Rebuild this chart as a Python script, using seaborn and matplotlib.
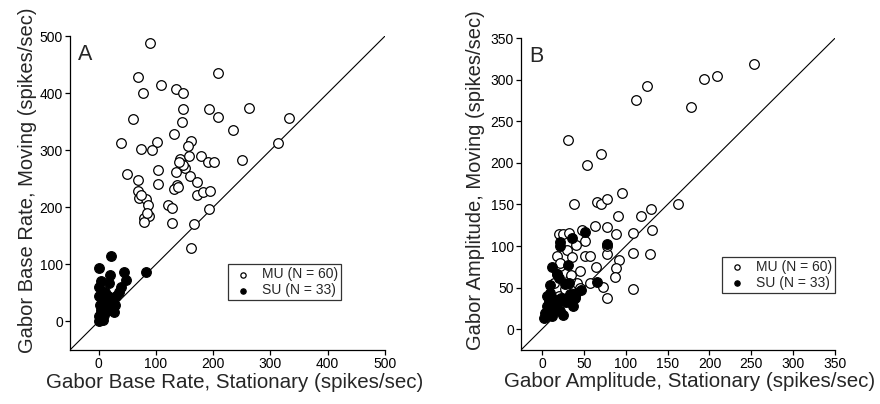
import matplotlib
matplotlib.use("Agg")
import matplotlib.pyplot as plt
import seaborn as sns
import pandas as pd

# Panel A: Gabor base rate (spikes/sec), stationary vs moving
mu_base_stat = [89, 68, 109, 77, 135, 148, 208, 148, 192, 263, 60, 146, 209, 333, 234,
                131, 39, 102, 162, 74, 93, 156, 314, 142, 158, 179, 191, 201, 251, 150,
                49, 104, 135, 160, 171, 68, 104, 137, 132, 69, 171, 182, 194, 70, 83,
                87, 122, 129, 192, 79, 88, 79, 128, 166, 162, 147, 139, 74, 141, 85]
mu_base_move = [487, 429, 415, 400, 407, 400, 436, 373, 372, 374, 355, 349, 358, 356, 336,
                328, 313, 314, 317, 302, 300, 308, 312, 284, 290, 290, 280, 280, 282, 269,
                258, 265, 261, 254, 245, 248, 240, 239, 232, 228, 221, 227, 229, 216, 214,
                204, 204, 199, 197, 181, 185, 174, 172, 170, 128, 274, 236, 222, 280, 190]
su_base_stat = [22, 0, 20, 44, 83, 4, 19, 48, 1, 39, 36, 1, 16, 30, 10, 24, 4, 19, 27, 0,
                10, 0, 7, 3, 5, 8, 13, 14, 22, 28, 12, 6, 2]
su_base_move = [115, 93, 82, 86, 86, 70, 68, 73, 60, 61, 52, 44, 44, 44, 32, 32, 20, 20, 17, 9,
                12, 0, 3, 5, 14, 25, 28, 38, 38, 28, 52, 40, 28]

# Panel B: Gabor amplitude (spikes/sec), stationary vs moving
mu_amp_stat = [253, 209, 194, 126, 112, 178, 31, 71, 54, 96, 38, 66, 70, 78, 163,
               130, 118, 91, 63, 78, 89, 109, 131, 48, 21, 25, 32, 51, 41, 30,
               36, 18, 52, 57, 78, 78, 109, 129, 92, 89, 65, 45, 87, 22, 42,
               57, 73, 109, 78, 33, 18, 26, 34, 20, 15, 40, 28, 35, 22, 46]
mu_amp_move = [319, 305, 301, 292, 276, 267, 227, 211, 197, 164, 151, 153, 150, 156, 150,
               144, 136, 136, 124, 123, 115, 116, 119, 119, 114, 114, 116, 106, 101, 95,
               87, 88, 88, 88, 91, 100, 92, 90, 83, 73, 75, 70, 63, 76, 56,
               55, 51, 48, 38, 60, 66, 40, 44, 40, 55, 40, 48, 65, 80, 50]
su_amp_stat = [51, 36, 22, 22, 78, 31, 12, 18, 20, 66, 32, 28, 10, 47, 41, 34, 10, 8, 15, 23,
               39, 37, 6, 14, 4, 10, 22, 25, 3, 12, 18, 29, 6]
su_amp_move = [117, 110, 105, 100, 103, 77, 75, 66, 62, 57, 56, 54, 53, 47, 44, 42, 44, 34, 36, 38,
               37, 28, 28, 24, 20, 21, 22, 17, 13, 16, 29, 33, 40]

mu_label = "MU (N = 60)"
su_label = "SU (N = 33)"

panels = [
    dict(letter="A", lim=(-50, 500), ticks=[0, 100, 200, 300, 400, 500],
         mu=(mu_base_stat, mu_base_move), su=(su_base_stat, su_base_move),
         xlabel="Gabor Base Rate, Stationary (spikes/sec)",
         ylabel="Gabor Base Rate, Moving (spikes/sec)",
         rect=[0.0795, 0.1337, 0.358, 0.777],
         xlabel_pos=(0.524, -0.072), ylabel_pos=(-0.105, 0.541),
         legend=dict(loc="lower left", bbox_to_anchor=(0.502, 0.159))),
    dict(letter="B", lim=(-25, 350), ticks=[0, 50, 100, 150, 200, 250, 300, 350],
         mu=(mu_amp_stat, mu_amp_move), su=(su_amp_stat, su_amp_move),
         xlabel="Gabor Amplitude, Stationary (spikes/sec)",
         ylabel="Gabor Amplitude, Moving (spikes/sec)",
         rect=[0.592, 0.1337, 0.357, 0.772],
         xlabel_pos=(0.538, -0.072), ylabel_pos=(-0.115, 0.545),
         legend=dict(loc="lower right", bbox_to_anchor=(1.0, 0.183))),
]

sns.set_style("ticks")
plt.rcParams["font.family"] = ["Liberation Sans", "DejaVu Sans"]

fig = plt.figure(figsize=(8.8, 4.04), dpi=100)

for p in panels:
    ax = fig.add_axes(p["rect"])
    lo, hi = p["lim"]
    # unity line
    ax.plot([lo, hi], [lo, hi], color="black", lw=0.8, zorder=1)

    mu_df = pd.DataFrame({"stat": p["mu"][0], "move": p["mu"][1]})
    su_df = pd.DataFrame({"stat": p["su"][0], "move": p["su"][1]})
    sns.scatterplot(data=mu_df, x="stat", y="move", ax=ax, marker="o", s=48,
                    facecolor="white", edgecolor="black", linewidth=0.9,
                    label=mu_label, zorder=2)
    sns.scatterplot(data=su_df, x="stat", y="move", ax=ax, marker="o", s=48,
                    color="black", edgecolor="black", linewidth=0.9,
                    label=su_label, zorder=3)

    ax.set_xlim(lo, hi)
    ax.set_ylim(lo, hi)
    ax.set_xticks(p["ticks"])
    ax.set_yticks(p["ticks"])
    ax.tick_params(axis="both", labelsize=10, length=3.6, width=0.9,
                   direction="out", color="black", labelcolor="black", pad=1.5)
    for side in ("top", "right"):
        ax.spines[side].set_visible(False)
    for side in ("left", "bottom"):
        ax.spines[side].set_linewidth(0.9)
        ax.spines[side].set_color("black")

    ax.set_xlabel(p["xlabel"], fontsize=14.8)
    ax.set_ylabel(p["ylabel"], fontsize=14.5)
    ax.xaxis.set_label_coords(*p["xlabel_pos"])
    ax.yaxis.set_label_coords(*p["ylabel_pos"])
    ax.text(0.025, 0.975, p["letter"], transform=ax.transAxes, fontsize=15.5,
            ha="left", va="top")

    leg = ax.legend(frameon=True, fancybox=False, fontsize=10, markerscale=0.55,
                    handlelength=1.8, handletextpad=0.45, borderpad=0.2,
                    labelspacing=0.15, borderaxespad=0, **p["legend"])
    leg.get_frame().set_edgecolor("black")
    leg.get_frame().set_linewidth(0.9)

fig.savefig("out.png", dpi=100)
